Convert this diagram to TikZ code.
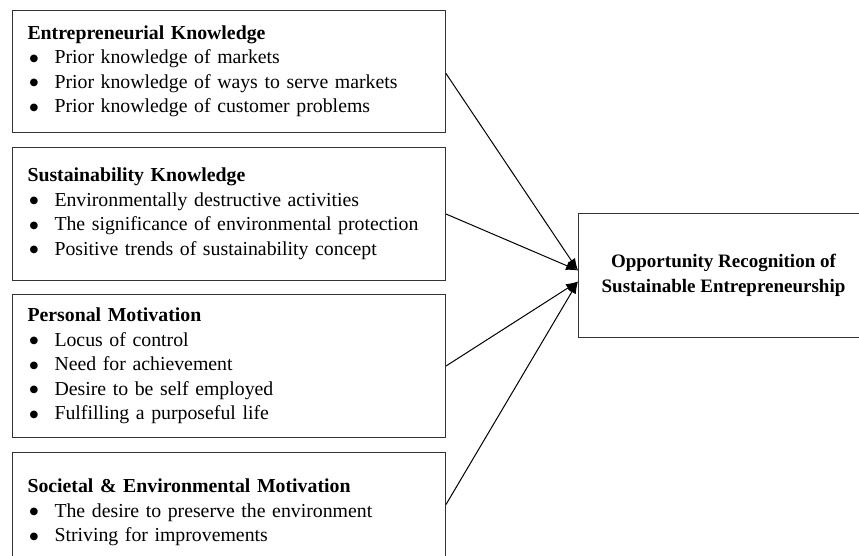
\documentclass[tikz,border=0pt]{standalone}
\usepackage{fontspec}
\setmainfont{Liberation Serif}
\newfontfamily\symfont{DejaVu Sans}
\usetikzlibrary{arrows.meta}
\usetikzlibrary{positioning}
\tikzset{factor/.style = {draw = black!80, line width = 1pt, anchor = north west, inner xsep = 15pt, inner ysep = 0, text width = 403pt, minimum width = 433pt, align = left, font = \fontsize{19.8}{24.5}\selectfont}}
\tikzset{outcome/.style = {draw = black!80, line width = 1pt, anchor = north west, minimum width = 290pt, minimum height = 124pt, align = center, font = \fontsize{19}{24.5}\selectfont\bfseries}}
\tikzset{conn/.style = {line width = 1pt, -{Latex[length = 12pt, width = 9pt]}}}
\newcommand{\bul}{\makebox[27pt][l]{\hspace{2pt}\raisebox{2.5pt}{\symfont\fontsize{10}{0}\selectfont ●}}}

\begin{document}
\begin{tikzpicture}[x=1pt, y=-1pt]
      \clip (0, 0) rectangle (859, 555);
      \fill [white] (0, 0) rectangle (859, 555);
      \node [factor, minimum height = 122pt] (ek) at (12, 10) {\textbf{Entrepreneurial Knowledge}\\
        \bul Prior knowledge of markets\\
        \bul Prior knowledge of ways to serve markets\\
        \bul Prior knowledge of customer problems};
      \node [factor, minimum height = 133pt] (sk) at (12, 147) {\textbf{Sustainability Knowledge}\\
        \bul Environmentally destructive activities\\
        \bul The significance of environmental protection\\
        \bul Positive trends of sustainability concept};
      \node [factor, minimum height = 143pt] (pm) at (12, 294) {\textbf{Personal Motivation}\\
        \bul Locus of control\\
        \bul Need for achievement\\
        \bul Desire to be self employed\\
        \bul Fulfilling a purposeful life};
      \node [factor, minimum height = 120pt] (sem) at (12, 452) {\textbf{Societal \& Environmental Motivation}\\
        \bul The desire to preserve the environment\\
        \bul Striving for improvements};
      \node [outcome] (or) at (578, 213) {Opportunity Recognition of\\ Sustainable Entrepreneurship};
      \draw [conn] ([yshift = -2pt]ek.east) -- ([yshift = 5pt]or.west);
      \draw [conn] (sk.east) -- ([yshift = 5pt]or.west);
      \draw [conn] (pm.east) -- ([yshift = -6pt]or.west);
      \draw [conn] ([yshift = 8pt]sem.east) -- ([yshift = -6pt]or.west);
    \end{tikzpicture}
\end{document}
